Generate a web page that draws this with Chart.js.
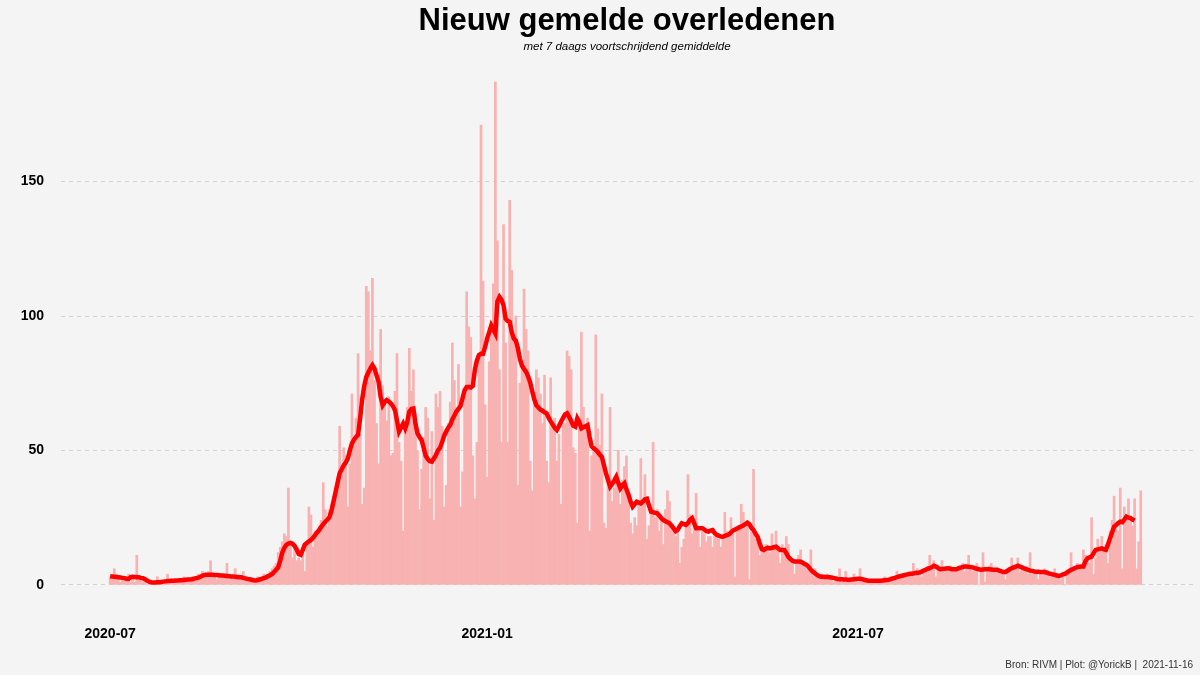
<!DOCTYPE html>
<html lang="nl">
<head>
<meta charset="utf-8">
<title>Nieuw gemelde overledenen</title>
<script src="https://cdn.jsdelivr.net/npm/chart.js@4.4.0/dist/chart.umd.min.js"></script>
<style>
  html, body { margin: 0; padding: 0; background: #f4f4f4; }
  #wrap { width: 1200px; height: 675px; position: relative; }
</style>
</head>
<body>
<div id="wrap"><canvas id="chart"></canvas></div>
<script>
// dagelijkse aantallen, dag 0 = 2020-07-01
const deaths = [
  3, 2, 6, 4, 3, 1, 2, 3, 2, 4,
  1, 2, 1, 11, 3, 2, 1, 2, 0, 1,
  1, 1, 0, 3, 1, 1, 0, 2, 4, 1,
  2, 1, 1, 2, 1, 2, 3, 1, 2, 1,
  3, 2, 3, 4, 2, 5, 4, 3, 5, 9,
  3, 4, 2, 3, 4, 3, 3, 8, 2, 3,
  2, 6, 3, 2, 3, 5, 2, 1, 2, 1,
  2, 1, 3, 2, 3, 4, 3, 4, 5, 6,
  7, 8, 12, 14, 16, 19, 18, 36, 15, 10,
  14, 9, 10, 9, 13, 5, 15, 29, 26, 14,
  20, 18, 22, 24, 38, 28, 22, 28, 30, 32,
  36, 40, 59, 44, 51, 48, 29, 45, 71, 53,
  62, 86, 56, 30, 36, 111, 109, 87, 114, 76,
  60, 45, 95, 74, 69, 61, 70, 48, 49, 72,
  86, 53, 46, 20, 58, 66, 88, 72, 80, 64,
  50, 28, 43, 55, 66, 62, 32, 57, 24, 71,
  66, 72, 59, 29, 37, 60, 68, 90, 76, 66,
  82, 29, 42, 70, 109, 96, 92, 48, 32, 53,
  84, 171, 113, 67, 40, 83, 96, 112, 187, 128,
  80, 53, 134, 90, 53, 143, 117, 92, 100, 37,
  75, 82, 110, 95, 87, 46, 35, 68, 80, 77,
  71, 60, 78, 46, 38, 77, 59, 62, 46, 56,
  30, 60, 60, 87, 85, 80, 51, 49, 23, 62,
  94, 66, 58, 62, 20, 48, 50, 93, 58, 52,
  71, 23, 21, 40, 66, 31, 36, 40, 50, 30,
  39, 44, 48, 32, 23, 19, 25, 22, 30, 47,
  30, 41, 17, 22, 27, 53, 25, 28, 20, 24,
  15, 28, 35, 31, 22, 20, 18, 20, 8, 14,
  17, 22, 41, 26, 19, 22, 34, 20, 14, 20,
  19, 16, 18, 18, 14, 18, 19, 17, 14, 18,
  27, 20, 18, 25, 19, 3, 20, 22, 30, 27,
  21, 24, 2, 22, 43, 17, 18, 11, 13, 14,
  15, 14, 12, 19, 14, 20, 13, 8, 15, 12,
  18, 15, 10, 8, 4, 9, 11, 13, 8, 7,
  6, 7, 13, 4, 6, 4, 3, 4, 2, 3,
  4, 2, 3, 1, 3, 2, 6, 1, 2, 5,
  1, 2, 1, 4, 2, 1, 6, 1, 2, 1,
  2, 1, 2, 1, 2, 1, 2, 1, 3, 1,
  2, 3, 2, 3, 5, 3, 2, 4, 3, 4,
  5, 4, 8, 3, 6, 4, 3, 5, 6, 5,
  11, 6, 9, 3, 7, 5, 9, 5, 6, 5,
  7, 5, 6, 6, 7, 6, 8, 5, 7, 11,
  6, 5, 6, 8, 0, 6, 12, 1, 5, 7,
  8, 5, 6, 6, 5, 4, 4, 2, 5, 6,
  10, 6, 7, 10, 5, 6, 7, 5, 4, 12,
  4, 4, 5, 2, 5, 4, 6, 4, 5, 3,
  4, 6, 3, 4, 2, 3, 0, 5, 4, 12,
  5, 6, 8, 6, 7, 13, 11, 10, 8, 25,
  4, 10, 17, 13, 18, 13, 15, 8, 20, 24,
  33, 22, 20, 36, 6, 29, 24, 32, 25, 22,
  32, 6, 16, 35
];

const avg7 = [
  3.2, 3.1, 3.0, 2.9, 2.8, 2.7, 2.6, 2.5, 2.3, 2.2,
  2.9, 3.0, 2.9, 2.8, 2.8, 2.6, 2.5, 2.1, 1.6, 1.2,
  1.0, 0.9, 0.9, 1.0, 1.0, 1.1, 1.2, 1.3, 1.4, 1.4,
  1.5, 1.5, 1.6, 1.6, 1.7, 1.7, 1.8, 1.9, 2.0, 2.0,
  2.1, 2.3, 2.5, 2.7, 3.0, 3.4, 3.7, 3.8, 3.8, 3.8,
  3.8, 3.7, 3.7, 3.6, 3.5, 3.5, 3.4, 3.3, 3.2, 3.1,
  3.1, 3.0, 2.9, 2.8, 2.8, 2.6, 2.4, 2.2, 2.1, 1.9,
  1.7, 1.6, 1.8, 2.0, 2.2, 2.5, 2.8, 3.2, 3.6, 4.0,
  4.8, 5.6, 6.5, 9.0, 12.0, 13.8, 14.9, 15.4, 15.6, 15.3,
  14.5, 13.2, 11.5, 11.2, 13.0, 15.0, 15.6, 16.2, 16.7, 17.5,
  18.5, 19.5, 20.4, 21.5, 22.6, 23.5, 24.2, 25.2, 27.5, 31.0,
  34.5, 38.0, 41.5, 43.0, 44.5, 45.5, 47.0, 50.0, 52.6, 54.0,
  55.0, 55.8, 62.0, 69.0, 74.0, 77.3, 79.0, 80.5, 81.7, 80.5,
  78.0, 75.5, 70.0, 66.8, 68.0, 68.7, 68.2, 67.5, 66.5, 65.0,
  61.0, 57.0, 58.5, 60.0, 58.2, 60.5, 64.4, 65.4, 65.6, 60.0,
  56.3, 55.0, 53.8, 51.0, 48.0, 46.8, 46.0, 45.8, 47.0, 48.3,
  50.0, 51.0, 53.0, 55.5, 57.0, 58.5, 59.5, 61.5, 63.0, 64.5,
  65.5, 66.5, 69.5, 72.4, 73.6, 73.6, 73.4, 74.0, 80.0, 83.5,
  85.5, 86.0, 86.0, 88.5, 91.6, 94.0, 96.5, 95.0, 93.5, 105.5,
  107.1, 106.0, 104.0, 99.0, 98.2, 97.8, 94.0, 91.6, 90.8, 88.0,
  84.0, 81.5, 80.3, 79.2, 77.5, 75.3, 72.0, 69.0, 66.8, 66.0,
  65.2, 64.8, 64.2, 63.8, 62.2, 60.8, 59.6, 58.4, 57.6, 59.0,
  60.6, 62.0, 63.4, 63.8, 62.5, 61.0, 59.2, 58.8, 61.9, 60.5,
  58.2, 58.6, 59.0, 59.4, 55.0, 51.5, 50.8, 50.2, 49.4, 48.4,
  47.6, 44.5, 41.5, 39.0, 36.5, 37.5, 38.8, 40.2, 38.0, 35.9,
  37.0, 37.8, 35.5, 33.5, 31.0, 29.1, 30.0, 30.9, 30.6, 30.3,
  31.0, 31.8, 32.0, 29.5, 27.2, 27.0, 26.8, 26.6, 25.8, 24.8,
  24.1, 23.7, 23.3, 22.9, 22.0, 21.0, 20.0, 20.5, 21.8, 22.9,
  22.6, 22.3, 23.0, 24.2, 24.8, 23.0, 21.1, 21.1, 21.1, 21.1,
  20.6, 20.0, 19.8, 20.2, 20.4, 19.3, 18.6, 18.3, 18.0, 17.9,
  18.2, 18.5, 18.8, 19.5, 20.2, 20.6, 21.0, 21.4, 21.7, 22.1,
  22.6, 23.1, 22.5, 21.2, 20.4, 19.0, 17.9, 15.5, 13.3, 13.0,
  13.4, 13.8, 13.6, 13.8, 14.0, 14.2, 13.6, 13.0, 13.0, 13.0,
  11.8, 10.4, 9.6, 9.0, 8.7, 8.7, 8.7, 8.6, 8.2, 7.8,
  7.4, 6.6, 5.6, 4.9, 4.3, 3.7, 3.2, 3.0, 3.0, 2.9,
  2.9, 2.8, 2.7, 2.6, 2.4, 2.2, 2.1, 2.1, 2.0, 2.0,
  1.9, 1.9, 2.0, 2.1, 2.2, 2.3, 2.3, 2.1, 1.9, 1.7,
  1.5, 1.5, 1.5, 1.5, 1.5, 1.5, 1.5, 1.6, 1.7, 1.8,
  1.9, 2.1, 2.4, 2.6, 2.9, 3.1, 3.3, 3.5, 3.7, 3.9,
  4.0, 4.1, 4.2, 4.4, 4.5, 4.6, 4.9, 5.3, 5.6, 6.0,
  6.2, 6.6, 7.1, 6.8, 6.3, 5.8, 5.9, 6.0, 6.1, 6.2,
  6.0, 5.8, 5.8, 5.8, 6.1, 6.4, 6.6, 6.8, 6.8, 6.7,
  6.6, 6.5, 6.2, 6.0, 5.8, 5.6, 5.7, 5.8, 5.8, 5.8,
  5.7, 5.6, 5.6, 5.6, 5.3, 5.0, 4.8, 4.8, 5.3, 5.8,
  6.2, 6.5, 6.8, 7.1, 6.8, 6.5, 6.1, 5.9, 5.6, 5.3,
  5.2, 5.0, 4.9, 4.9, 4.8, 4.8, 4.8, 4.6, 4.3, 4.1,
  3.9, 3.7, 3.5, 3.3, 3.5, 3.9, 4.1, 4.6, 5.1, 5.6,
  5.9, 6.3, 6.6, 6.7, 6.8, 6.8, 8.8, 9.9, 10.2, 10.5,
  11.8, 13.0, 13.2, 13.4, 13.6, 13.2, 13.0, 15.0, 17.3, 19.5,
  21.7, 22.3, 23.0, 23.5, 23.3, 24.3, 25.4, 25.0, 24.8, 24.3,
  23.9, null, null, null
];

const tickDays = [0, 184, 365];
const tickLabels = ['2020-07', '2021-01', '2021-07'];
const yTicks = [0, 50, 100, 150];

const FONT = "'Liberation Sans', Arial, Helvetica, sans-serif";

// bronvermelding rechtsonder
const footer = {
  id: 'footer',
  afterDraw(chart) {
    const ctx = chart.ctx;
    ctx.save();
    ctx.font = '10px ' + FONT;
    ctx.fillStyle = '#333333';
    ctx.textAlign = 'right';
    ctx.textBaseline = 'alphabetic';
    ctx.fillText('Bron: RIVM | Plot: @YorickB |  2021-11-16', 1193, 668);
    ctx.restore();
  }
};

new Chart(document.getElementById('chart'), {
  type: 'bar',
  data: {
    datasets: [
      {
        type: 'line',
        label: '7 daags gemiddelde',
        data: avg7.map((v, i) => ({ x: i, y: v })),
        borderColor: '#ff0000',
        borderWidth: 4.5,
        pointRadius: 0,
        tension: 0,
        order: 0
      },
      {
        type: 'bar',
        label: 'Overledenen',
        data: deaths.map((v, i) => ({ x: i, y: v })),
        backgroundColor: '#f8b2b2',
        barPercentage: 1,
        categoryPercentage: 1,
        order: 1
      }
    ]
  },
  options: {
    responsive: true,
    maintainAspectRatio: false,
    animation: false,
    devicePixelRatio: 1,
    layout: { padding: { left: 0, right: 7, top: 0, bottom: 0 } },
    plugins: {
      legend: { display: false },
      tooltip: { enabled: false },
      title: {
        display: true,
        text: 'Nieuw gemelde overledenen',
        fullSize: false,
        color: '#000',
        font: { family: FONT, size: 31, weight: 'bold' },
        padding: { top: 3, bottom: 0 }
      },
      subtitle: {
        display: true,
        text: 'met 7 daags voortschrijdend gemiddelde',
        fullSize: false,
        color: '#000',
        font: { family: FONT, size: 11.5, style: 'italic' },
        padding: { top: 0, bottom: 3 }
      }
    },
    scales: {
      x: {
        type: 'linear',
        min: -24,
        max: 528.5,
        offset: false,
        grid: { display: false, drawTicks: false },
        border: { display: false },
        afterBuildTicks: a => { a.ticks = tickDays.map(v => ({ value: v })); },
        afterFit: a => { a.height = 65; },
        ticks: {
          autoSkip: false,
          maxRotation: 0,
          padding: 16,
          color: '#000',
          font: { family: FONT, size: 14, weight: 'bold' },
          callback: v => tickLabels[tickDays.indexOf(v)]
        }
      },
      y: {
        min: -9.35,
        max: 196.35,
        grid: { color: '#d2d2d2', lineWidth: 1, drawTicks: false },
        border: { display: false, dash: [4, 4] },
        afterBuildTicks: a => { a.ticks = yTicks.map(v => ({ value: v })); },
        afterFit: a => { a.width = 61; },
        ticks: {
          padding: 17,
          color: '#000',
          font: { family: FONT, size: 14, weight: 'bold' }
        }
      }
    }
  },
  plugins: [footer]
});
</script>
</body>
</html>
